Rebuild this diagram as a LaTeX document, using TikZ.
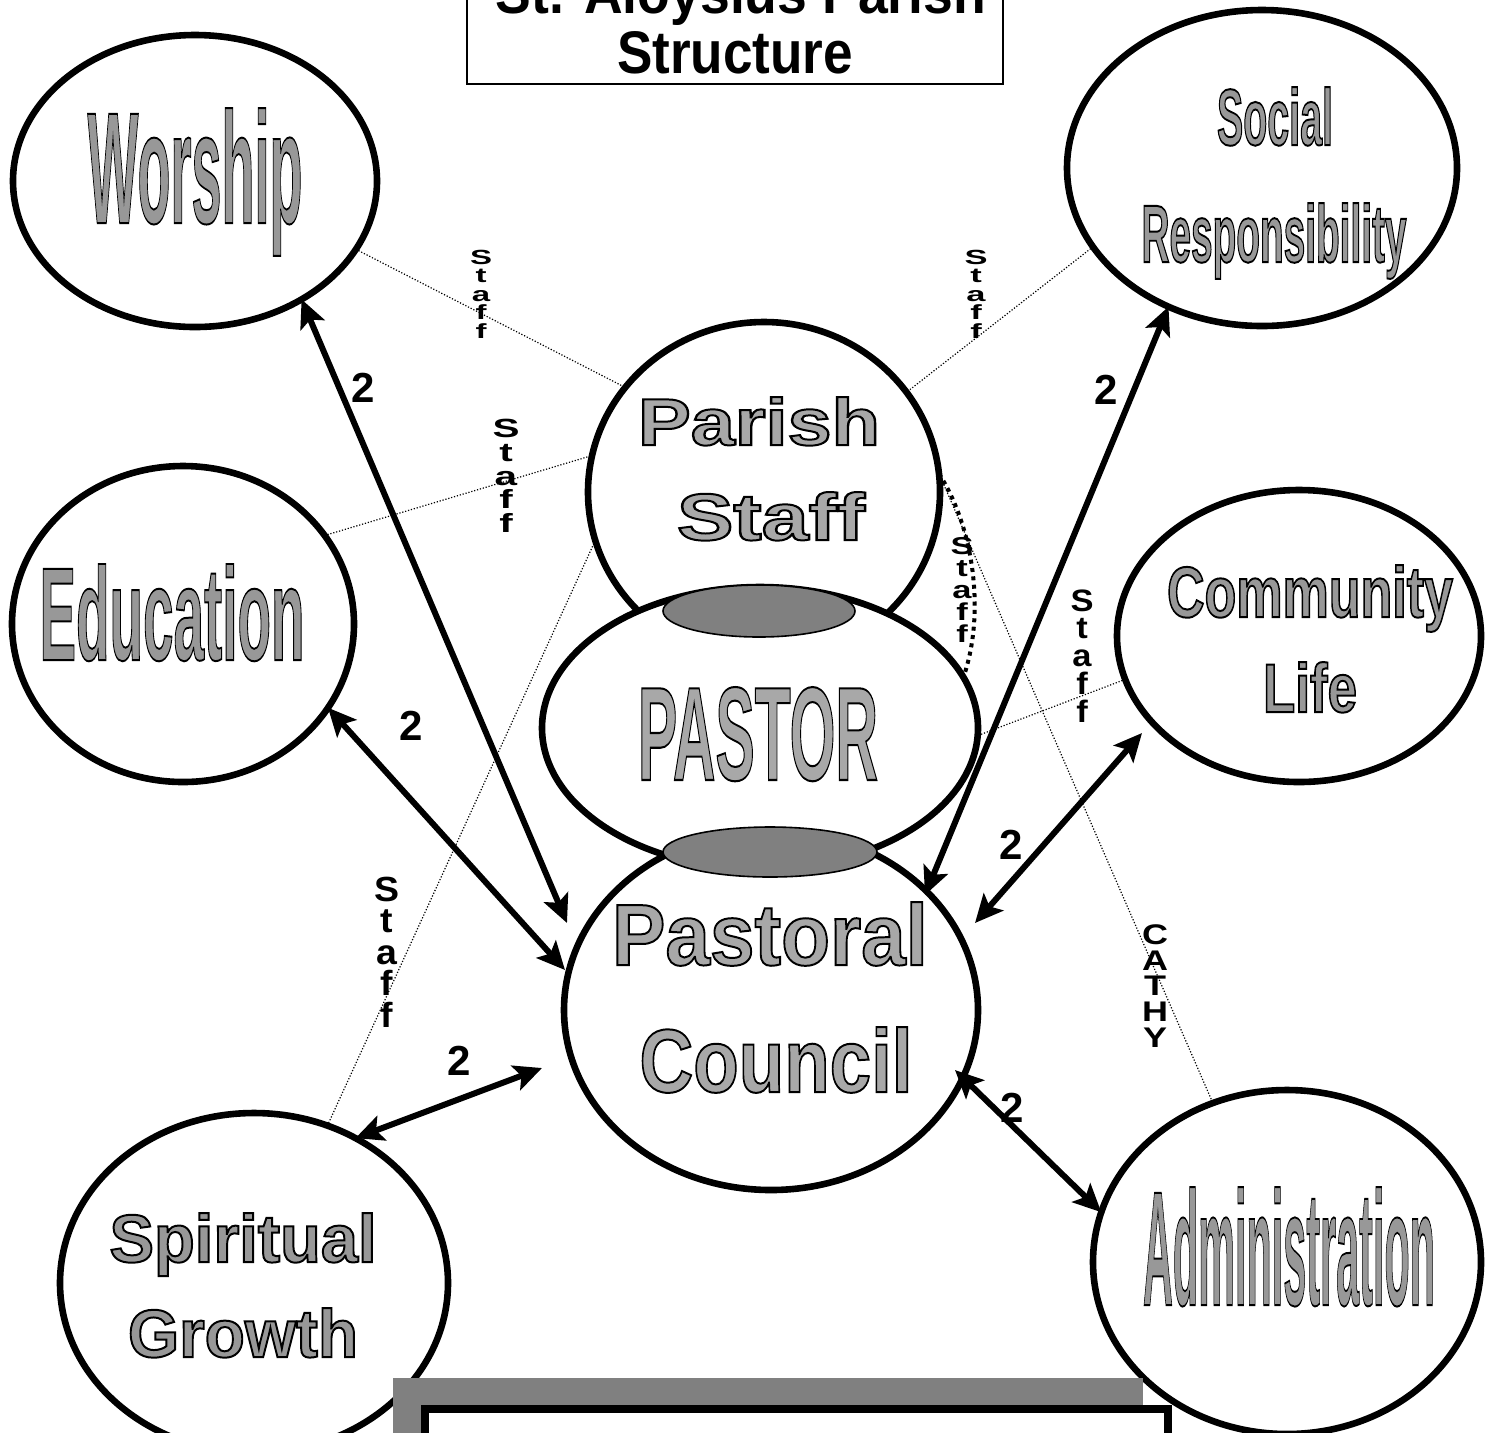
\documentclass[tikz,border=0pt]{standalone}
\usepackage{fontspec}
\setmainfont{Liberation Sans}
\usepackage{graphicx}
\usetikzlibrary{arrows.meta,shapes.geometric}
\definecolor{wagray}{HTML}{989898}
\definecolor{watex}{HTML}{A8A8A8}
\definecolor{padgray}{HTML}{808080}
% outlined (WordArt-like) text: colour, width px, height px, text
\newcommand{\wart}[4]{\resizebox{\dimexpr0.5pt*#2\relax}{\dimexpr0.5pt*#3\relax}{%
  \fontsize{\dimexpr0.698pt*#3\relax}{\dimexpr0.84pt*#3\relax}\selectfont\bfseries
  \color{#1}\special{pdf:literal direct 0 G 2 Tr 1 w}#4\special{pdf:literal direct 0 Tr}}}
% plain bold text fitted to width/height px
\newcommand{\ptext}[3]{\resizebox{\dimexpr0.5pt*#1\relax}{\dimexpr0.5pt*#2\relax}{%
  \fontsize{\dimexpr0.698pt*#2\relax}{\dimexpr0.84pt*#2\relax}\selectfont\bfseries #3}}
% vertical stack of letters fitted to width/height px
\newcommand{\vst}[3]{\resizebox*{\dimexpr0.5pt*#1\relax}{\dimexpr0.5pt*#2\relax}{%
  \fontsize{10pt}{9pt}\selectfont\bfseries
  \vbox{\baselineskip=9pt\lineskiplimit=-20pt\lineskip=0pt\halign{\hfil##\hfil\cr#3}}}}
\begin{document}
\begin{tikzpicture}[x=0.5pt,y=-0.5pt,
  oval/.style={ellipse, draw, line width=3.3pt, fill=white, inner sep=0pt, outer sep=0pt},
  pad/.style={ellipse, draw, line width=0.8pt, fill=padgray, inner sep=0pt, outer sep=0pt},
  link/.style={line width=3pt, {Stealth[length=14pt,width=13pt,inset=3pt]}-{Stealth[length=14pt,width=13pt,inset=3pt]}},
  staffline/.style={line width=0.6pt, dash pattern=on 0.6pt off 0.9pt},
  bigdots/.style={line width=2pt, dash pattern=on 2pt off 2.2pt},
  txt/.style={inner sep=0pt, outer sep=0pt, anchor=base},
  num/.style={inner sep=0pt, font=\fontsize{21pt}{24pt}\selectfont\bfseries},
  stack/.style={inner sep=0pt}]
\useasboundingbox (0,0) rectangle (1494,1432);
\clip (0,0) rectangle (1494,1432);

% outer ellipses
\node[oval, minimum width=182pt, minimum height=146pt] (wor) at (195,181) {};
\node[oval, minimum width=195pt, minimum height=158pt] (soc) at (1262,168) {};
\node[oval, minimum width=171pt, minimum height=158pt] (edu) at (183,624) {};
\node[oval, minimum width=182pt, minimum height=146pt] (com) at (1299,636) {};
\node[oval, minimum width=194pt, minimum height=170pt] (spi) at (254,1283) {};
\node[oval, minimum width=194pt, minimum height=172pt] (adm) at (1287,1262) {};
% central stack
\node[oval, minimum width=176pt, minimum height=170pt] (ps) at (764,492) {};
\node[oval, minimum width=218pt, minimum height=141pt] (pa) at (760,728) {};
\node[oval, minimum width=207pt, minimum height=180pt] (pc) at (771,1010) {};
\node[pad, minimum width=96pt, minimum height=26pt] (g1) at (759,611) {};
\node[pad, minimum width=107pt, minimum height=25pt] (g2) at (770,852) {};

% staff (dotted) lines
\draw[staffline] (wor.-23.7) -- (ps.143.9);
\draw[staffline] (soc.205.9) -- (ps.35.7);
\draw[staffline] (edu.32.1) -- (ps.168.4);
\draw[staffline] (spi.65.6) -- (ps.196.1);
\draw[staffline] (com.194.9) -- (pa.-2.6);
\draw[staffline] (ps.6.1) -- (adm.115.8);
\draw[bigdots] (ps.6.1) .. controls (975,530) and (985,615) .. (pa.14.8);

% arrow ends at the pastoral council
\coordinate (pcA) at (567,923);
\coordinate (pcB) at (565,970);
\coordinate (pcC) at (542,1068);
\coordinate (pcD) at (925,895);
\coordinate (pcE) at (975,923);
\coordinate (pcF) at (955,1070);
\coordinate (comTip) at (1142,733);

\draw[link] (wor.-48.5) -- (pcA);
\draw[link] (edu.-30.3) -- (pcB);
\draw[link] (spi.55.7) -- (pcC);
\draw[link] (soc.-124.7) -- (pcD);
\draw[link] (comTip) -- (pcE);
\draw[link] (adm.165) -- (pcF);

% ellipse texts
\node[txt] (worT) at (195,223) {\wart{wagray}{215}{115}{Worship}};
\node[txt] (socT1) at (1275,145) {\wart{wagray}{116}{58}{Social}};
\node[txt] (socT2) at (1274,262) {\wart{wagray}{265}{59}{Responsibility}};
\node[txt] (eduT) at (172,660) {\wart{wagray}{265}{96}{Education}};
\node[txt] (comT1) at (1310,617) {\wart{wagray}{286}{52}{Community}};
\node[txt] (comT2) at (1310,712) {\wart{wagray}{94}{50}{Life}};
\node[txt] (spiT1) at (243,1262) {\wart{wagray}{267}{49}{Spiritual}};
\node[txt] (spiT2) at (243,1357) {\wart{wagray}{230}{49}{Growth}};
\node[txt] (admT) at (1289,1305) {\wart{wagray}{292}{118}{Administration}};
\node[txt] (psT1) at (759,445) {\wart{watex}{242}{48}{Parish}};
\node[txt] (psT2) at (771,540) {\wart{watex}{188}{48}{Staff}};
\node[txt] (paT) at (758,780) {\wart{watex}{240}{93}{PASTOR}};
\node[txt] (pcT1) at (770,965) {\wart{watex}{316}{63}{Pastoral}};
\node[txt] (pcT2) at (776,1092) {\wart{watex}{273}{65}{Council}};

% numbers
\node[num] (n1) at (363,388) {2};
\node[num] (n2) at (1106,390) {2};
\node[num] (n3) at (411,726) {2};
\node[num] (n4) at (1011,845) {2};
\node[num] (n5) at (459,1061) {2};
\node[num] (n6) at (1012,1108) {2};

% vertical labels
\node[stack] (s1) at (481,294) {\vst{22}{88}{S\cr t\cr a\cr f\cr f\cr}};
\node[stack] (s2) at (976,294) {\vst{23}{88}{S\cr t\cr a\cr f\cr f\cr}};
\node[stack] (s3) at (506,476) {\vst{27}{113}{S\cr t\cr a\cr f\cr f\cr}};
\node[stack] (s4) at (962,590) {\vst{23}{105}{S\cr t\cr a\cr f\cr f\cr}};
\node[stack] (s5) at (1082,656) {\vst{23}{133}{S\cr t\cr a\cr f\cr f\cr}};
\node[stack] (s6) at (387,952) {\vst{25}{150}{S\cr t\cr a\cr f\cr f\cr}};
\node[stack] (s7) at (1155,986) {\vst{26}{122}{C\cr A\cr T\cr H\cr Y\cr}};

% bottom framed box with shadow
\fill[padgray] (393,1378) rectangle (1143,1520);
\draw[line width=4pt, fill=white] (425,1409) rectangle (1168,1540);

% title box
\draw[line width=1pt, fill=white] (467,-100) rectangle (1003,84);
\node[txt] (tt1) at (741,13) {\ptext{490}{42}{St. Aloysius Parish}};
\node[txt] (tt2) at (735,73) {\ptext{236}{42}{Structure}};
\end{tikzpicture}
\end{document}
